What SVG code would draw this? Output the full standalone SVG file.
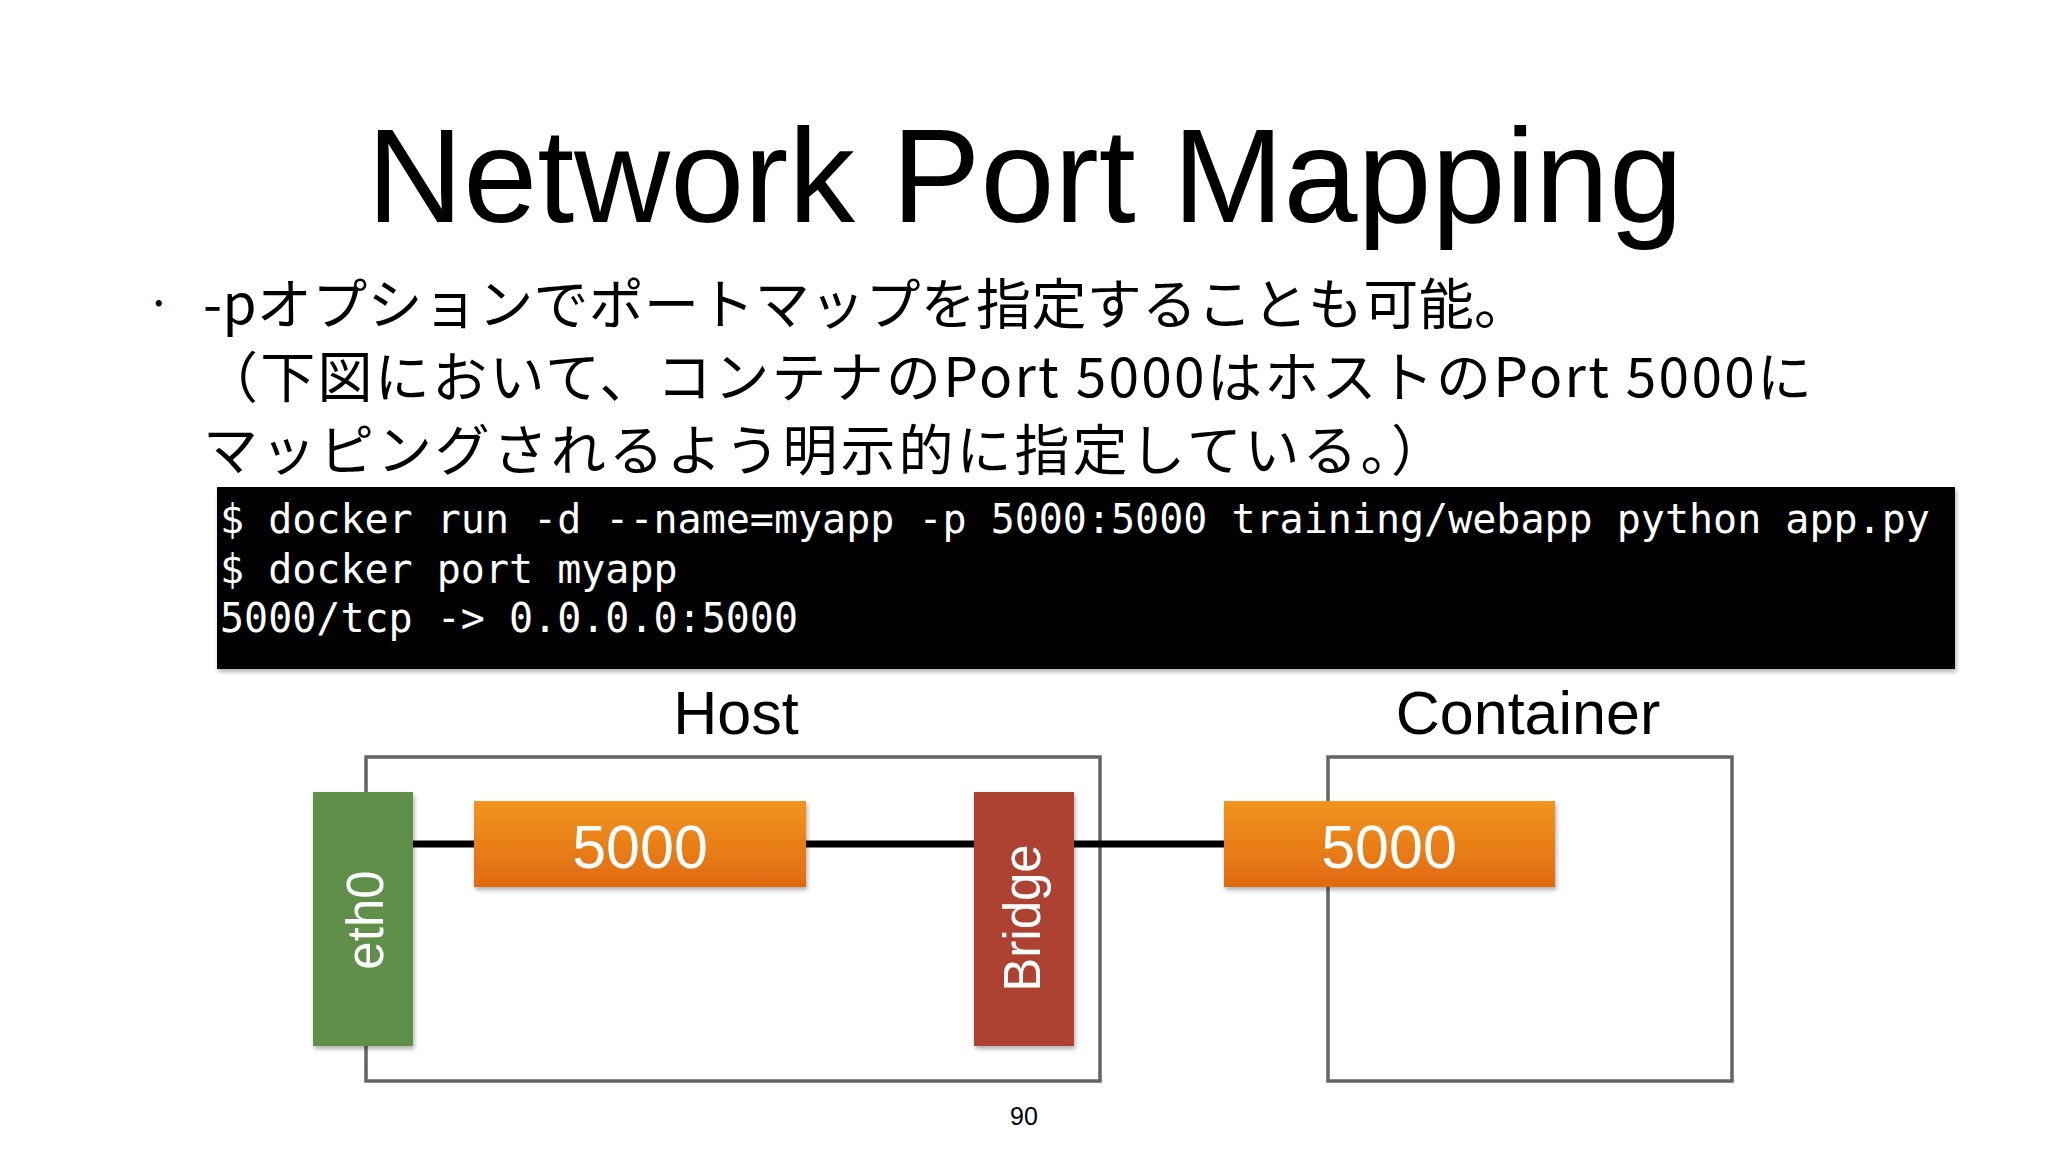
<svg xmlns="http://www.w3.org/2000/svg" width="2048" height="1152" viewBox="0 0 2048 1152">
  <style>
    .title { font-family: "Liberation Sans", Arial, sans-serif; font-size: 133px; fill: #000; }
    .jp { font-family: "Noto Sans CJK JP", "Noto Sans", sans-serif; font-size: 55px; fill: #000; }
    .mono { font-family: "DejaVu Sans Mono", "Liberation Mono", monospace; font-size: 40px; fill: #fff; }
    .label { font-family: "Liberation Sans", Arial, sans-serif; font-size: 61px; fill: #000; text-anchor: middle; }
    .frame { fill: #fff; stroke: #646464; stroke-width: 3.5; }
    .port { fill: url(#orange); }
    .porttext { font-family: "Liberation Sans", Arial, sans-serif; font-size: 61px; fill: #fff; text-anchor: middle; }
    .vtext { font-family: "Liberation Sans", Arial, sans-serif; font-size: 51px; fill: #fff; text-anchor: middle; }
    .wire { stroke: #000; stroke-width: 7; fill: none; }
    .pagenum { font-family: "Liberation Sans", Arial, sans-serif; font-size: 25px; fill: #000; text-anchor: middle; }
  </style>
  <defs>
    <linearGradient id="orange" x1="0" y1="0" x2="0" y2="1">
      <stop offset="0" stop-color="#f19520"/>
      <stop offset="1" stop-color="#e16a10"/>
    </linearGradient>
    <filter id="shadow" x="-10%" y="-10%" width="120%" height="130%">
      <feDropShadow dx="1.5" dy="3" stdDeviation="2" flood-color="#000" flood-opacity="0.3"/>
    </filter>
  </defs>

  <rect x="0" y="0" width="2048" height="1152" fill="#fff"/>

  <g id="title">
    <text class="title" x="1025" y="222" text-anchor="middle">Network Port Mapping</text>
  </g>

  <g id="bullet-text">
    <text class="jp" x="146" y="320" style="font-size:46px">·</text>
    <text class="jp" x="203" y="324" textLength="1326" lengthAdjust="spacing">-pオプションでポートマップを指定することも可能。</text>
    <text class="jp" x="203" y="397" textLength="1609" lengthAdjust="spacing">（下図において、コンテナのPort 5000はホストのPort 5000に</text>
    <text class="jp" x="203" y="470" textLength="1243" lengthAdjust="spacing">マッピングされるよう明示的に指定している。）</text>
  </g>

  <g id="terminal">
    <rect x="217" y="487" width="1738" height="182" fill="#000" filter="url(#shadow)"/>
    <text class="mono" x="220" y="533">$ docker run -d --name=myapp -p 5000:5000 training/webapp python app.py</text>
    <text class="mono" x="220" y="583">$ docker port myapp</text>
    <text class="mono" x="220" y="632">5000/tcp -&gt; 0.0.0.0:5000</text>
  </g>

  <g id="host">
    <text class="label" x="736" y="734">Host</text>
    <rect class="frame" x="366" y="757" width="734" height="324"/>
  </g>

  <g id="container">
    <text class="label" x="1528" y="734">Container</text>
    <rect class="frame" x="1328" y="757" width="404" height="324"/>
  </g>

  <g id="connectors">
    <line class="wire" x1="413" y1="844" x2="474" y2="844"/>
    <line class="wire" x1="806" y1="844" x2="974" y2="844"/>
    <line class="wire" x1="1074" y1="844" x2="1224" y2="844"/>
  </g>

  <g id="eth0">
    <rect x="313" y="792" width="100" height="254" fill="#5f8f4a" filter="url(#shadow)"/>
    <text class="vtext" transform="translate(383,920) rotate(-90)">eth0</text>
  </g>

  <g id="host-port">
    <rect class="port" x="474" y="801" width="332" height="86" filter="url(#shadow)"/>
    <text class="porttext" x="640" y="868">5000</text>
  </g>

  <g id="bridge">
    <rect x="974" y="792" width="100" height="254" fill="#ae4232" filter="url(#shadow)"/>
    <text class="vtext" transform="translate(1040,918) rotate(-90)">Bridge</text>
  </g>

  <g id="container-port">
    <rect class="port" x="1224" y="801" width="331" height="86" filter="url(#shadow)"/>
    <text class="porttext" x="1389" y="868">5000</text>
  </g>

  <g id="page-number">
    <text class="pagenum" x="1024" y="1125">90</text>
  </g>
</svg>
